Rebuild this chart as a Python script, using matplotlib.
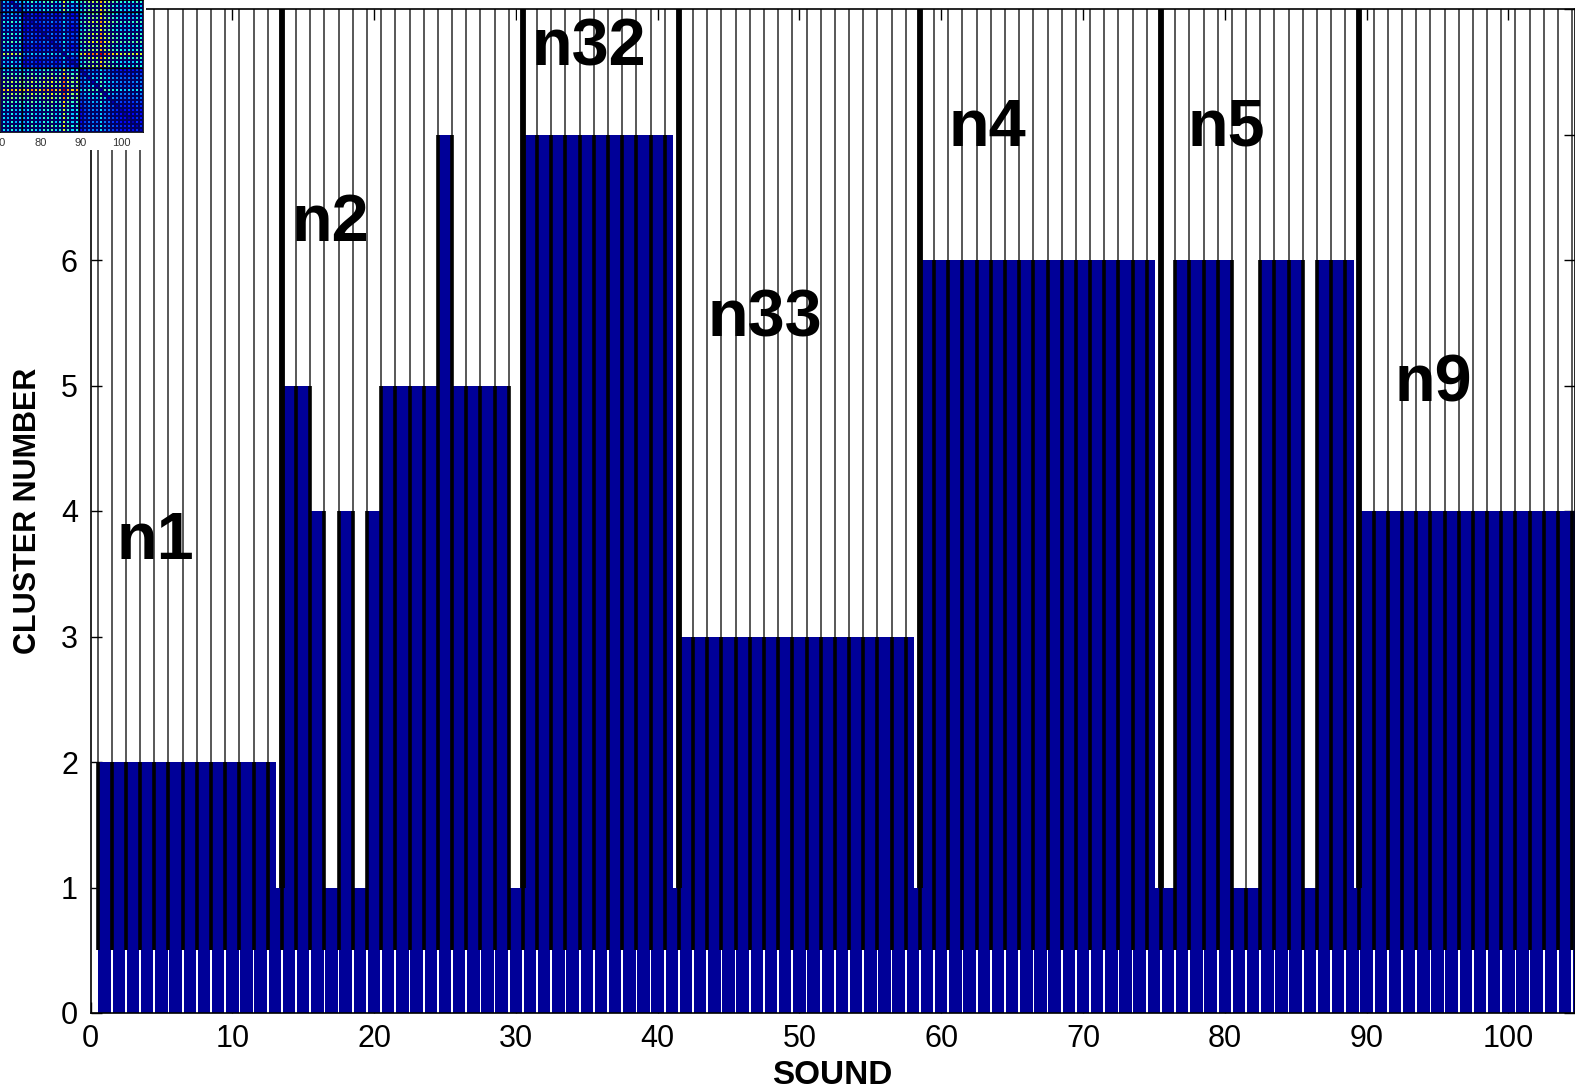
import numpy as np
import matplotlib
matplotlib.use("Agg")
import matplotlib.pyplot as plt

plt.rcParams["font.family"] = ["Liberation Sans", "DejaVu Sans"]

# ---- cluster assignment of each sound ---------------------------------
sounds = np.arange(1, 106)
n1_values = [2, 2, 2, 2, 2, 2, 2, 2, 2, 2, 2, 2, 2]
n2_values = [5, 5, 4, 1, 4, 1, 4, 5, 5, 5, 5, 7, 5, 5, 5, 5, 1]
n32_values = [7, 7, 7, 7, 7, 7, 7, 7, 7, 7, 7]
n33_values = [3, 3, 3, 3, 3, 3, 3, 3, 3, 3, 3, 3, 3, 3, 3, 3, 3]
n4_values = [6, 6, 6, 6, 6, 6, 6, 6, 6, 6, 6, 6, 6, 6, 6, 6, 6]
n5_values = [1, 6, 6, 6, 6, 1, 1, 6, 6, 6, 1, 6, 6, 6]
n9_values = [4, 4, 4, 4, 4, 4, 4, 4, 4, 4, 4, 4, 4, 4, 4, 4]
cluster_number = np.array(n1_values + n2_values + n32_values + n33_values
                          + n4_values + n5_values + n9_values, dtype=float)

group_names = ["n1", "n2", "n32", "n33", "n4", "n5", "n9"]
group_last_sound = [13, 30, 41, 58, 75, 89, 105]
group_label_pos = [(1.8, 3.62), (14.2, 6.15), (31.1, 7.55), (43.55, 5.39),
                   (60.5, 6.91), (77.4, 6.91), (92.0, 4.87)]

x_ticks = [0, 10, 20, 30, 40, 50, 60, 70, 80, 90, 100]
y_ticks = [0, 1, 2, 3, 4, 5, 6, 7, 8]
# 7 and 8 sit beneath the corner map
y_tick_labels = ["0", "1", "2", "3", "4", "5", "6", "", ""]

# ---- dissimilarity map shown in the corner (sounds 71..105) -------------
map_sounds = np.arange(71, 106)
map_rows = np.arange(73, 106)
map_group_edges = [75.5, 89.5]
# coarse level between the three groups present (n4, n5, n9)
map_block_level = np.array([[0.20, 0.20, 0.24],
                            [0.20, 0.10, 0.26],
                            [0.24, 0.26, 0.10]])
# per-sound prominence of the bright stripes
map_stripe = np.array([0.2, 0.1, 0.3, 0.1, 0.2,
                       0.05, 0.1, 0.3, 0.1, 0.05, 0.3, 0.2, 0.4, 0.1, 0.2, 0.8, 0.3, 0.1, 0.2,
                       0.1, 0.3, 0.5, 0.6, 0.5, 1.0, 0.6, 0.5, 0.3, 0.2, 0.1, 0.05, 0.1, 0.05, 0.2, 0.1])

BAR_BLUE = "#000098"
W, H = 1575, 1089

fig = plt.figure(figsize=(W / 100, H / 100), dpi=100)
ax = fig.add_axes([90.5 / W, 1 - 1013 / H, (W - 90.5) / W, (1013 - 9) / H])
ax.set_xlim(0, 104.7)
ax.set_ylim(0, 8)

edges = np.append(sounds - 0.5, sounds[-1] + 0.5)

# thin outlines of every sound slot
ax.vlines(edges, 0.5, 8, color="#2a2a2a", lw=1.1, zorder=1)

# lower band: separated bars up to 0.5
ax.bar(sounds, 0.5, width=0.88, color=BAR_BLUE, lw=0, zorder=2)
# upper part: contiguous bars from 0.5 to the cluster number
ax.bar(sounds, cluster_number - 0.5, bottom=0.5, width=1.0,
       color=BAR_BLUE, lw=0, zorder=2)
padded = np.concatenate([[0.5], cluster_number, [0.5]])
edge_top = np.maximum(padded[:-1], padded[1:])
ax.vlines(edges, 0.5, edge_top, color="black", lw=2.6, zorder=3)

# group separators
separators = np.array(group_last_sound[:-1]) + 0.5
ax.bar(separators - 0.42, 7, bottom=1, width=0.42, align="edge",
       color="white", lw=0, zorder=3.5)
ax.vlines(separators, 1, 8, color="black", lw=4.2, zorder=4)

for name, (gx, gy) in zip(group_names, group_label_pos):
    ax.text(gx, gy, name, fontsize=48, fontweight="bold", color="black",
            ha="left", va="baseline", zorder=6)

ax.set_xticks(x_ticks)
ax.set_yticks(y_ticks)
ax.set_yticklabels(y_tick_labels)
ax.tick_params(direction="in", length=8, width=1.0, top=True, right=True,
               labelsize=22, colors="black")
ax.tick_params(axis="x", pad=8)
ax.tick_params(axis="y", pad=9)
for sp in ax.spines.values():
    sp.set_linewidth(1.2)
    sp.set_zorder(5)

ax.set_xlabel("SOUND", fontsize=24, fontweight="bold", va="center", ha="center")
ax.xaxis.set_label_coords(0.5, (1013 - 1076) / 1004)
ax.set_ylabel("CLUSTER NUMBER", fontsize=22, fontweight="bold", va="center", ha="center")
ax.yaxis.set_label_coords((28 - 90.5) / (W - 90.5), 0.5)

# ---- corner map ---------------------------------------------------------
bg = fig.add_axes([0, 1 - 150 / H, 146 / W, 150 / H], zorder=5)
bg.set_facecolor("white")
bg.set_xticks([])
bg.set_yticks([])
for sp in bg.spines.values():
    sp.set_visible(False)

def group_index(s):
    return np.searchsorted(map_group_edges, s)

col_g = group_index(map_sounds)
row_g = group_index(map_rows)
col_s = map_stripe
row_s = map_stripe[map_rows - map_sounds[0]]
same = row_g[:, None] == col_g[None, :]
gain = np.where(same, 0.22, 0.38)
dis = map_block_level[row_g[:, None], col_g[None, :]] + gain * (row_s[:, None] + col_s[None, :])
dis[map_rows[:, None] == map_sounds[None, :]] = 0.05
dis = np.clip(dis, 0, 1)

inset = fig.add_axes([0, 1 - 132 / H, 143 / W, 132 / H], zorder=6)
xe = np.append(map_sounds - 0.5, map_sounds[-1] + 0.5)
ye = np.append(map_rows - 0.5, map_rows[-1] + 0.5)
inset.pcolormesh(xe, ye, dis, cmap="jet", vmin=0, vmax=1,
                 edgecolors="#000060", linewidth=0.15)
for e in map_group_edges:
    inset.axvline(e, color="black", lw=1.0)
    inset.axhline(e, color="black", lw=1.0)
inset.set_xlim(70.5, 105.5)
inset.set_ylim(105.5, 72.5)
inset.set_xticks([70, 80, 90, 100])
inset.set_yticks([])
inset.tick_params(axis="x", length=0, labelsize=8, pad=4, colors="#333333")
for sp in inset.spines.values():
    sp.set_linewidth(0.6)

fig.savefig("out.png", dpi=100)
